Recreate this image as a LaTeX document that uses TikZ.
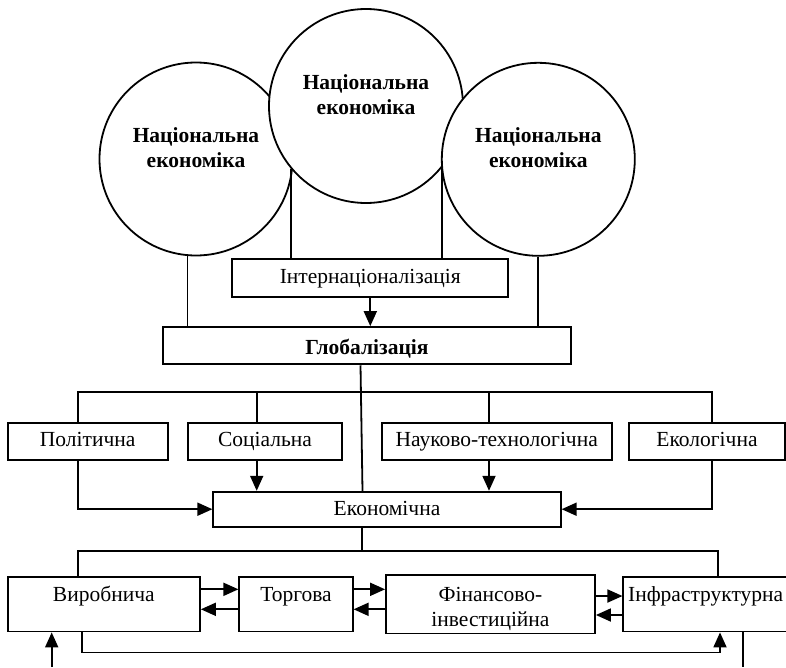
\documentclass[tikz,border=0pt]{standalone}
\usepackage{fontspec}
\setmainfont{Liberation Serif}
\usetikzlibrary{arrows.meta,calc}
\begin{document}
\begin{tikzpicture}[x=1pt,y=-1pt,
  every node/.style={font=\fontsize{21.5}{25}\selectfont},
  box/.style={draw, line width=1.8pt, rectangle, inner sep=0pt, align=center},
  rowtext/.style={text height=15pt, text depth=5.6pt},
  lowtext/.style={text height=17.5pt, text depth=23.7pt},
  econ/.style={draw, line width=1.8pt, circle, fill=white, inner sep=0pt,
    minimum size=193pt, align=center, font=\fontsize{21.5}{25}\selectfont\bfseries},
  conn/.style={line width=1.8pt},
  arr/.style={line width=1.8pt, -{Triangle[length=15pt,width=13pt]}}
]
\useasboundingbox (0,0) rectangle (786,667);

% circles
\node[econ] (lc) at (196,159) {\strut Національна\\економіка\\\rule[-1pt]{0pt}{1pt}};
\node[econ, minimum size=194pt] (mc) at (366,106) {\strut Національна\\економіка\\\rule[-1pt]{0pt}{1pt}};
\node[econ] (rc) at (538.3,159.3) {\strut Національна\\економіка\\\rule[-1pt]{0pt}{1pt}};

% upper boxes
\node[box, text height=15pt, text depth=4.4pt, minimum width=276pt, minimum height=37.4pt] (intern) at (370.3,278) {Інтернаціоналізація};
\node[box, text height=18pt, text depth=0pt, minimum width=407.4pt, minimum height=37.3pt, font=\fontsize{21.5}{25}\selectfont\bfseries] (glob) at (367,345.7) {Глобалізація};

% second row
\node[box, rowtext, minimum width=160pt, minimum height=37.3pt] (pol) at (87.7,441.3) {Політична};
\node[box, rowtext, minimum width=153.4pt, minimum height=37.3pt] (soc) at (265,441.3) {Соціальна};
\node[box, rowtext, minimum width=230pt, minimum height=37.3pt] (nauk) at (496.7,441.3) {Науково-технологічна};
\node[box, rowtext, minimum width=156pt, minimum height=37.3pt] (ekol) at (707,441.3) {Екологічна};

\node[box, text height=15pt, text depth=3.4pt, minimum width=347.4pt, minimum height=35pt] (ekon) at (387,509.2) {Економічна};

% third row
\node[box, lowtext, minimum width=192.3pt, minimum height=54.8pt] (vyr) at (103.8,604.1) {Виробнича};
\node[box, lowtext, minimum width=113.4pt, minimum height=54.8pt] (torg) at (296,604.1) {Торгова};
\node[box, minimum width=209pt, minimum height=54.8pt] (fin) at (490.5,604.1) {\rule{0pt}{26.3pt}Фінансово-\\\strut інвестиційна};
\node[box, lowtext, minimum width=164.7pt, minimum height=54.8pt] (infra) at (705.7,604.1) {Інфраструктурна};

% connectors from circles
\draw[conn] (lc.265.4) -- (lc.265.4 |- glob.north);
\draw[conn] (mc.220.9) -- (mc.220.9 |- intern.north);
\draw[conn] (mc.321.3) -- (mc.321.3 |- intern.north);
\draw[conn] (rc.270) -- (rc.270 |- glob.north);
\draw[arr] (intern.south) -- (intern.south |- glob.north);

% globalization to economic
\draw[conn] ([xshift=-6.5pt]glob.south) -- ([xshift=-24.5pt]ekon.north);

% bus to second row
\coordinate (bus) at (0,391.7);
\draw[conn] ([xshift=-9.4pt]pol.north) -- ([xshift=-9.4pt]pol.north |- bus)
  -- ([xshift=4.7pt]ekol.north |- bus) -- ([xshift=4.7pt]ekol.north);
\draw[conn] ([xshift=-8.3pt]soc.north) -- ([xshift=-8.3pt]soc.north |- bus);
\draw[conn] ([xshift=-7.7pt]nauk.north) -- ([xshift=-7.7pt]nauk.north |- bus);

% second row to economic
\draw[arr] ([xshift=-9.4pt]pol.south) |- (ekon.west);
\draw[arr] ([xshift=-8.3pt]soc.south) -- ([xshift=-8.3pt]soc.south |- ekon.north);
\draw[arr] ([xshift=-7.7pt]nauk.south) -- ([xshift=-7.7pt]nauk.south |- ekon.north);
\draw[arr] ([xshift=4.7pt]ekol.south) |- (ekon.east);

% economic to third row
\coordinate (bus2) at (0,551);
\draw[conn] ([xshift=-24.7pt]ekon.south) -- ([xshift=-24.7pt]ekon.south |- bus2);
\draw[conn] ([xshift=-25.5pt]vyr.north) -- ([xshift=-25.5pt]vyr.north |- bus2)
  -- ([xshift=12.6pt]infra.north |- bus2) -- ([xshift=12.6pt]infra.north);

% horizontal arrows
\draw[arr] ([yshift=14.8pt]vyr.east) -- ([yshift=14.8pt]torg.west);
\draw[arr] ([yshift=-5.2pt]torg.west) -- ([yshift=-5.2pt]vyr.east);
\draw[arr] ([yshift=14.8pt]torg.east) -- ([yshift=14.8pt]fin.west);
\draw[arr] ([yshift=-5.2pt]fin.west) -- ([yshift=-5.2pt]torg.east);
\draw[arr] ([yshift=8.1pt]fin.east) -- ([yshift=8.1pt]infra.west);
\draw[arr] ([yshift=-10.9pt]infra.west) -- ([yshift=-10.9pt]fin.east);

% bottom loop
\coordinate (loop) at (0,652.5);
\draw[arr] ([xshift=-22.1pt]vyr.south) -- ([xshift=-22.1pt]vyr.south |- loop)
  -| ([xshift=14.3pt]infra.south);

% free ends
\coordinate (inL) at (51.7,667);
\coordinate (outR) at (743,667);
\draw[arr] (inL) -- (inL |- vyr.south);
\draw[conn] ([xshift=37.3pt]infra.south) -- (outR);
\end{tikzpicture}
\end{document}
